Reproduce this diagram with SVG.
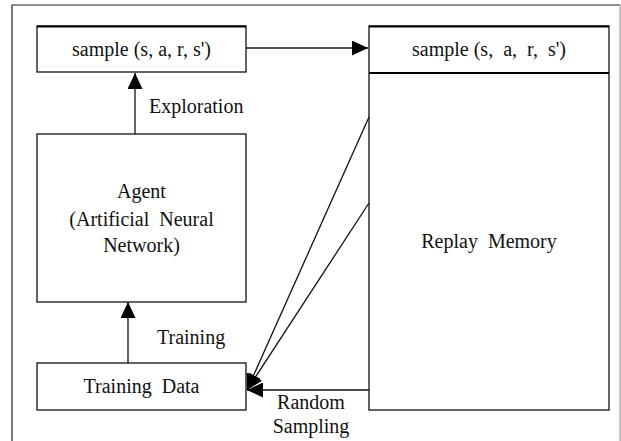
<svg xmlns="http://www.w3.org/2000/svg" width="621" height="441" viewBox="0 0 621 441">
  <style>
    .box { fill: #ffffff; stroke: #111111; stroke-width: 1.3; }
    .edge { fill: none; stroke: #111111; stroke-width: 1.3; }
    .thick { stroke: #000000; stroke-width: 2.2; }
    .lbl { font-family: "Liberation Serif", "Times New Roman", serif; font-size: 20px; fill: #111111; white-space: pre; }
    .mid { text-anchor: middle; }
  </style>
  <defs>
    <marker id="head" markerUnits="userSpaceOnUse" markerWidth="16" markerHeight="15" refX="16" refY="7.5" orient="auto">
      <path d="M0,0 L16,7.5 L0,15 Z" fill="#000000"/>
    </marker>
  </defs>

  <rect width="621" height="441" fill="#ffffff"/>
  <!-- outer frame -->
  <path d="M12,441 V5 H620" fill="none" stroke="#222222" stroke-width="1.2"/>
  <path d="M620,5 V441" fill="none" stroke="#9a9a9a" stroke-width="1.2"/>

  <g id="sample-out">
    <rect class="box" x="37" y="26" width="209" height="46"/>
    <line class="thick" x1="37" y1="26.5" x2="246" y2="26.5"/>
    <text class="lbl mid" x="141.5" y="56">sample (s, a, r, s')</text>
  </g>

  <g id="agent">
    <rect class="box" x="37" y="134" width="209" height="168"/>
    <text class="lbl mid" x="141.5" y="198">Agent</text>
    <text class="lbl mid" x="141.5" y="226">(Artificial  Neural</text>
    <text class="lbl mid" x="141.5" y="252">Network)</text>
  </g>

  <g id="training-data">
    <rect class="box" x="37" y="363" width="209" height="47"/>
    <text class="lbl mid" x="141.5" y="393">Training  Data</text>
  </g>

  <g id="replay-memory">
    <rect class="box" x="369" y="26" width="240" height="384"/>
    <line class="thick" x1="369" y1="26.5" x2="609" y2="26.5"/>
    <line class="thick" x1="369" y1="73" x2="609" y2="73"/>
    <text class="lbl mid" x="489" y="56">sample (s,  a,  r,  s')</text>
    <text class="lbl mid" x="489" y="248">Replay  Memory</text>
  </g>

  <g id="connectors">
    <line class="edge" x1="246" y1="48" x2="368" y2="48" marker-end="url(#head)"/>
    <line class="edge" x1="135" y1="134" x2="135" y2="73" marker-end="url(#head)"/>
    <line class="edge" x1="128" y1="363" x2="128" y2="302" marker-end="url(#head)"/>
    <line class="edge" x1="369" y1="390" x2="247" y2="390" marker-end="url(#head)"/>
    <line class="edge" x1="369" y1="117" x2="247" y2="390" marker-end="url(#head)"/>
    <line class="edge" x1="369" y1="203" x2="247" y2="390" marker-end="url(#head)"/>
    <text class="lbl" x="149" y="113">Exploration</text>
    <text class="lbl" x="157" y="344">Training</text>
    <text class="lbl mid" x="311" y="409">Random</text>
    <text class="lbl mid" x="311" y="433">Sampling</text>
  </g>
</svg>
